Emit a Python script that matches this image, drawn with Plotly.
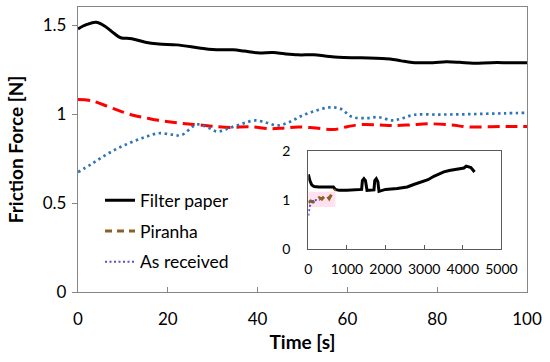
import plotly.graph_objects as go

# ---- main chart data (Time [s] vs Friction Force [N]) ----
filter_x = [0, 2, 4, 6, 8, 9.5, 12, 15, 18, 22, 27, 30, 34.5, 37, 40, 43.5, 46, 49, 52.5, 55, 58,
            63, 69.5, 72, 75, 79, 82, 85, 88, 92, 96, 100]
filter_y = [1.48, 1.505, 1.517, 1.495, 1.455, 1.43, 1.425, 1.405, 1.395, 1.39, 1.373, 1.364, 1.362,
            1.355, 1.345, 1.347, 1.34, 1.334, 1.334, 1.328, 1.32, 1.317, 1.311, 1.3, 1.29, 1.29,
            1.295, 1.292, 1.287, 1.29, 1.29, 1.29]

piranha_x = [0, 3, 7, 10, 12.5, 15, 18, 21, 24, 27, 30, 34, 38, 43, 46, 49, 53, 57, 60, 63, 67,
             70, 74, 78, 83, 87, 92, 96, 100]
piranha_y = [1.083, 1.076, 1.04, 1.012, 0.993, 0.98, 0.965, 0.955, 0.946, 0.94, 0.932, 0.925,
             0.93, 0.918, 0.923, 0.928, 0.922, 0.914, 0.93, 0.942, 0.94, 0.936, 0.94, 0.946,
             0.94, 0.928, 0.93, 0.931, 0.931]

received_x = [0, 3, 6, 9, 12, 15, 18, 21, 23, 26.5, 29, 31, 34, 37, 39.5, 42, 44.5, 47, 50, 53,
              56, 58.5, 61, 64, 67, 70, 72, 75, 80, 85, 90, 95, 100]
received_y = [0.674, 0.72, 0.768, 0.81, 0.843, 0.872, 0.893, 0.885, 0.882, 0.942, 0.925, 0.903,
              0.925, 0.95, 0.965, 0.952, 0.937, 0.955, 0.993, 1.02, 1.038, 1.03, 0.985, 0.978,
              0.983, 0.965, 0.975, 0.997, 0.998, 0.999, 1.002, 1.005, 1.008]

# ---- inset data (long run) ----
inset_filter_x = [0, 40, 90, 150, 270, 500, 650, 700, 800, 1000, 1200, 1380, 1400, 1440, 1480,
                  1500, 1520, 1700, 1720, 1760, 1800, 1830, 2000, 2300, 2560, 2730, 2900, 3100,
                  3250, 3400, 3510, 3650, 3770, 3900, 4030, 4090, 4150, 4210, 4280, 4310]
inset_filter_y = [1.53, 1.40, 1.31, 1.28, 1.27, 1.27, 1.27, 1.22, 1.20, 1.20, 1.21, 1.22, 1.40,
                  1.44, 1.40, 1.22, 1.20, 1.21, 1.40, 1.44, 1.38, 1.18, 1.22, 1.24, 1.27, 1.32,
                  1.36, 1.42, 1.49, 1.55, 1.58, 1.61, 1.63, 1.64, 1.66, 1.70, 1.68, 1.67, 1.60,
                  1.62]
inset_piranha_x = [0, 60, 120, 200, 280, 350, 420, 480, 540, 600, 650, 700]
inset_piranha_y = [0.95, 0.98, 0.96, 1.00, 1.05, 1.02, 1.08, 1.10, 1.03, 1.12, 1.18, 1.22]
inset_received_x = [0, 10, 30, 60, 100, 200, 300]
inset_received_y = [0.68, 0.75, 0.85, 0.93, 0.98, 1.00, 1.00]
band_x = [0, 700]
band_lo = [0.86, 0.86]
band_hi = [1.17, 1.17]

x_ticks = [0, 20, 40, 60, 80, 100]
y_ticks = [0, 0.5, 1, 1.5]
y_ticklabels = ["0", "0.5", "1", "1.5"]
inset_x_ticks = [0, 1000, 2000, 3000, 4000, 5000]
inset_y_ticks = [0, 1, 2]

FONT = "Lato"
fig = go.Figure()

# main traces
fig.add_trace(go.Scatter(x=filter_x, y=filter_y, mode="lines", line=dict(color="black", width=3),
                         showlegend=False, line_shape="spline"))
fig.add_trace(go.Scatter(x=piranha_x, y=piranha_y, mode="lines",
                         line=dict(color="#ff0000", width=3, dash="12px,6px"),
                         showlegend=False, line_shape="spline"))
fig.add_trace(go.Scatter(x=received_x, y=received_y, mode="lines",
                         line=dict(color="#2e75b6", width=2.7, dash="2.5px,3.5px"),
                         showlegend=False, line_shape="spline"))

# inset traces
fig.add_trace(go.Scatter(x=band_x + band_x[::-1], y=band_hi + band_lo[::-1], fill="toself",
                         mode="lines", fillcolor="rgba(255,205,228,0.6)", line=dict(width=0),
                         xaxis="x2", yaxis="y2", showlegend=False, hoverinfo="skip"))
fig.add_trace(go.Scatter(x=inset_filter_x, y=inset_filter_y, mode="lines", name="Filter paper",
                         line=dict(color="black", width=3), xaxis="x2", yaxis="y2",
                         legendgroup="a"))
fig.add_trace(go.Scatter(x=inset_piranha_x, y=inset_piranha_y, mode="lines", name="Piranha",
                         line=dict(color="#8c5f24", width=3, dash="7px,5px"), xaxis="x2", yaxis="y2",
                         legendgroup="b"))
fig.add_trace(go.Scatter(x=inset_received_x, y=inset_received_y, mode="lines", name="As received",
                         line=dict(color="#5a50c8", width=2, dash="2px,2.5px"), xaxis="x2", yaxis="y2",
                         legendgroup="c"))

axis_common = dict(showgrid=False, zeroline=False, showline=True, mirror=True, automargin=False)

fig.update_layout(
    width=550, height=362,
    margin=dict(l=78, r=23, t=7, b=70),
    paper_bgcolor="white", plot_bgcolor="white",
    font=dict(family=FONT, color="black", size=17),
    xaxis=dict(range=[0, 100], tickvals=x_ticks, ticks="inside", ticklen=5, tickcolor="#868686",
               linecolor="#868686", linewidth=1.3, tickfont=dict(size=17),
               ticklabelstandoff=11, ticklabeloverflow="allow",
               title=dict(text="<b>Time [s]</b>", font=dict(size=19), standoff=8),
               domain=[0, 1], **axis_common),
    yaxis=dict(range=[0, 1.603], tickvals=y_ticks, ticktext=y_ticklabels, ticks="outside",
               ticklen=5, tickcolor="#868686", linecolor="#868686", linewidth=1.3,
               tickfont=dict(size=17), ticklabelstandoff=2,
               title=dict(text="<b>Friction Force [N]</b>", font=dict(size=19), standoff=14),
               domain=[0, 1], **axis_common),
    xaxis2=dict(range=[0, 5000], tickvals=inset_x_ticks, ticks="inside", ticklen=4,
                tickcolor="#595959", linecolor="#595959", linewidth=1.3, tickfont=dict(size=14),
                ticklabelstandoff=7, domain=[0.513, 0.943], anchor="y2", **axis_common),
    yaxis2=dict(range=[0, 2], tickvals=inset_y_ticks, ticks="", linecolor="#595959",
                linewidth=1.3, tickfont=dict(size=14), ticklabelstandoff=14,
                domain=[0.152, 0.493], anchor="x2", **axis_common),
    legend=dict(x=0.049, y=0.385, xanchor="left", yanchor="top", bgcolor="rgba(0,0,0,0)",
                font=dict(size=17.5), tracegroupgap=5, itemwidth=30),
)

fig.write_html("out.html", config={"displayModeBar": False},
               post_script="document.body.style.margin='0px';")
